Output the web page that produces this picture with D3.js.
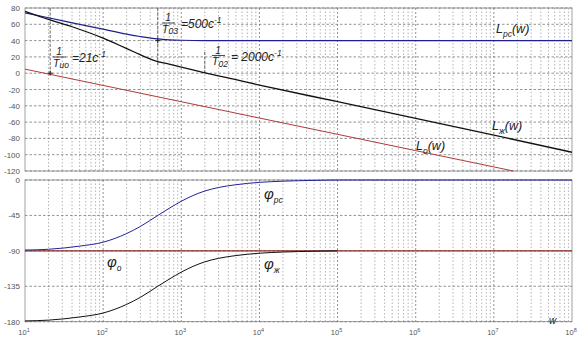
<!DOCTYPE html>
<html><head><meta charset="utf-8">
<script src="https://cdn.jsdelivr.net/npm/d3@7/dist/d3.min.js"></script>
<style>
html,body{margin:0;padding:0;background:#fff;}
svg{display:block;font-family:"Liberation Sans",Arial,sans-serif;}
</style></head>
<body>
<svg id="c" width="582" height="339"></svg>
<script>
// ---------- data ----------
const magTicks = [80, 60, 40, 20, 0, -20, -40, -60, -80, -100, -120];
const phaseTicks = [0, -45, -90, -135, -180];
const decadeExps = [1, 2, 3, 4, 5, 6, 7, 8];

// desired LAFC  L_ж(w)
const wZh  = [10, 20, 40, 100, 164, 250, 436, 700, 1000, 2000, 5000, 1e4, 1e5, 1e6, 1e7, 1e8];
const LZh  = [76, 66, 57, 43, 34, 26, 16, 11, 7.5, 0.5, -8, -14.5, -35, -55.5, -76, -97];
// controller LAFC L_рс(w)
const wPc  = [10, 20, 50, 100, 200, 300, 500, 700, 1000, 2000, 1e8];
const LPc  = [74, 68, 60, 54, 48, 45, 42, 41, 40.4, 40, 40];
// plant LAFC L_o(w)
const wO   = [10, 100, 1000, 1e4, 1e5, 1e6, 1e7, 1.78e7];
const LO   = [5, -15, -35, -55, -75, -95, -115, -120];
// phases
const wPh   = [10, 20, 50, 100, 200, 300, 500, 700, 1000, 2000, 3000, 5000, 1e4, 2e4, 5e4, 1e5, 1e8];
const phiPc = [-89, -88, -84, -79, -68, -59, -45, -36, -27, -14, -9.5, -6, -3, -1.5, -0.5, 0, 0];
const wPhZh = [10, 20, 50, 100, 200, 300, 500, 700, 1000, 2000, 3000, 5000, 1e4, 2e4, 5e4, 1e5];
const phiZh = [-179, -178, -174, -169, -158, -149, -135, -126, -117, -104, -99.5, -96, -93, -91.5, -90.5, -90];
const wPhO  = [10, 1e8];
const phiO  = [-90, -90];
// annotated break frequencies
const breaks = [21, 500, 2000];

// ---------- layout ----------
const svg = d3.select("#c");
const X0 = 25, X1 = 572;
const panelT = {y0: 8, y1: 171}, panelB = {y0: 180, y1: 321.7};
const x = d3.scaleLog().domain([10, 1e8]).range([X0, X1]);
const yM = d3.scaleLinear().domain([-120, 80]).range([panelT.y1, panelT.y0]);
const yP = d3.scaleLinear().domain([-180, 0]).range([panelB.y1, panelB.y0]);

const defs = svg.append("defs");
defs.append("clipPath").attr("id","clipT").append("rect")
  .attr("x",X0).attr("y",panelT.y0-1).attr("width",X1-X0).attr("height",panelT.y1-panelT.y0+2);
defs.append("clipPath").attr("id","clipB").append("rect")
  .attr("x",X0).attr("y",panelB.y0-1.5).attr("width",X1-X0).attr("height",panelB.y1-panelB.y0+2);

function grid(panel, yScale, ticks){
  const g = svg.append("g");
  g.append("rect").attr("x",X0).attr("y",panel.y0).attr("width",X1-X0).attr("height",panel.y1-panel.y0)
    .attr("fill","none").attr("stroke","#8a8a8a").attr("stroke-width",0.8);
  const minor = [];
  for (let e = 1; e < 8; e++) for (let m = 2; m <= 9; m++) minor.push(m*Math.pow(10,e));
  g.selectAll(".vmin").data(minor).join("line")
    .attr("x1",d=>x(d)).attr("x2",d=>x(d)).attr("y1",panel.y0).attr("y2",panel.y1)
    .attr("stroke","#949494").attr("stroke-width",0.7).attr("stroke-dasharray","1.5,2");
  g.selectAll(".vmaj").data(decadeExps.slice(1,-1).map(e=>Math.pow(10,e))).join("line")
    .attr("x1",d=>x(d)).attr("x2",d=>x(d)).attr("y1",panel.y0).attr("y2",panel.y1)
    .attr("stroke","#777").attr("stroke-width",0.8).attr("stroke-dasharray","2,2");
  g.selectAll(".h").data(ticks).join("line")
    .attr("x1",X0).attr("x2",X1).attr("y1",d=>yScale(d)).attr("y2",d=>yScale(d))
    .attr("stroke","#777").attr("stroke-width",0.8).attr("stroke-dasharray","2.5,2");
  g.selectAll(".yl").data(ticks).join("text")
    .attr("x",X0-5).attr("y",d=>yScale(d)+3).attr("text-anchor","end")
    .attr("font-size",8).attr("fill","#555").text(d=>d);
}
grid(panelT, yM, magTicks);
grid(panelB, yP, phaseTicks);

const xl = svg.append("g").selectAll("text").data(decadeExps).join("text")
  .attr("x",d=>x(Math.pow(10,d))-1).attr("y",335).attr("text-anchor","middle")
  .attr("font-size",7.5).attr("fill","#555");
xl.append("tspan").text("10");
xl.append("tspan").attr("dy",-3).attr("font-size",5.5).text(d=>d);

// ---------- curves ----------
function curve(ws, vs, yScale, clip, color, width){
  const pts = ws.map((w,i)=>[w, vs[i]]);
  svg.append("path").datum(pts)
    .attr("clip-path", `url(#${clip})`)
    .attr("d", d3.line().x(d=>x(d[0])).y(d=>yScale(d[1])).curve(d3.curveMonotoneX))
    .attr("fill","none").attr("stroke",color).attr("stroke-width",width);
}
const ann = svg.append("g").attr("stroke","#555").attr("stroke-width",0.9).attr("stroke-dasharray","3,1.5");
ann.append("line").attr("x1",x(breaks[0])).attr("x2",x(breaks[0])).attr("y1",yM(80)).attr("y2",yM(0));
ann.append("line").attr("x1",x(breaks[1])).attr("x2",x(breaks[1])).attr("y1",yM(80)).attr("y2",yM(8));
ann.append("line").attr("x1",x(breaks[2])).attr("x2",x(breaks[2])).attr("y1",yM(26)).attr("y2",yM(0));

curve(wO, LO, yM, "clipT", "#b03a3a", 1);
curve(wPc, LPc, yM, "clipT", "#20208a", 1.2);
curve(wZh, LZh, yM, "clipT", "#111", 1.3);

curve(wPhO, phiO, yP, "clipB", "#8a2a2a", 1.1);
curve(wPh, phiPc, yP, "clipB", "#22229a", 1);
curve(wPhZh, phiZh, yP, "clipB", "#111", 1);

function cross(px, py){
  svg.append("path").attr("d",`M${px-2.5},${py}H${px+2.5}M${px},${py-2.5}V${py+2.5}`)
    .attr("stroke","#222").attr("stroke-width",1);
}
cross(x(breaks[0]), yM(0));
cross(x(breaks[1]), yM(40));

// ---------- labels ----------
const lab = svg.append("g").attr("font-style","italic").attr("fill","#222");
function Llabel(px, py, sub){
  const t = lab.append("text").attr("x",px).attr("y",py).attr("font-size",12.5);
  t.append("tspan").text("L");
  t.append("tspan").attr("dy",3.5).attr("font-size",8.5).text(sub);
  t.append("tspan").attr("dy",-3.5).text("(w)");
}
Llabel(496, 33, "рс");
Llabel(492, 130, "ж");
Llabel(416, 150, "о");

function frac(px, py, sub, rest){
  lab.append("text").attr("x",px+6).attr("y",py-2).attr("font-size",10).attr("text-anchor","middle").text("1");
  lab.append("line").attr("x1",px).attr("x2",px+13).attr("y1",py).attr("y2",py).attr("stroke","#222").attr("stroke-width",0.8);
  const t = lab.append("text").attr("x",px).attr("y",py+9.5).attr("font-size",10.5);
  t.append("tspan").text("T");
  t.append("tspan").attr("dy",1.5).attr("font-size",8.5).text(sub);
  const r = lab.append("text").attr("x",px+19).attr("y",py+5).attr("font-size",12);
  r.append("tspan").text("=" + rest);
  r.append("tspan").attr("dy",-5).attr("font-size",8.5).text("-1");
}
frac(162, 23, "03", "500c");
frac(212, 55.5, "02", " 2000c");
frac(53, 57, "uo", "21c");

function phiLabel(px, py, sub){
  const t = lab.append("text").attr("x",px).attr("y",py).attr("font-size",15);
  t.append("tspan").text("φ");
  t.append("tspan").attr("dy",4).attr("font-size",8.5).text(sub);
}
phiLabel(264, 199, "рс");
phiLabel(264, 269, "ж");
phiLabel(107, 267, "о");

lab.append("text").attr("x",549).attr("y",324).attr("font-size",10).text("w");
</script>
</body></html>
